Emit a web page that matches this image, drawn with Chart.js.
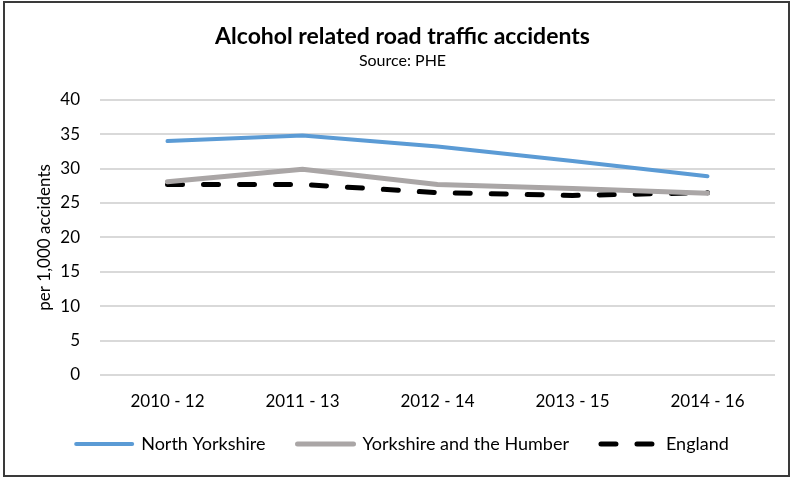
<!DOCTYPE html>
<html>
<head>
<meta charset="utf-8">
<script src="https://cdn.jsdelivr.net/npm/chart.js@4.4.1/dist/chart.umd.min.js"></script>
<style>
  body { margin: 0; background: #fff; }
  #frame {
    position: absolute; left: 3px; top: 1px;
    width: 783px; height: 472px;
    border: 2px solid #3a3a3a; background: #fff;
  }
</style>
</head>
<body>
<div id="frame"><canvas id="lineChart"></canvas></div>
<script>
// Periods and rates per 1,000 accidents
const periods = ['2010 - 12', '2011 - 13', '2012 - 14', '2013 - 15', '2014 - 16'];
const northYorkshire = [34.0, 34.8, 33.2, 31.1, 28.9];
const yorkshireHumber = [28.1, 29.9, 27.7, 27.1, 26.4];
const england = [27.7, 27.7, 26.5, 26.1, 26.5];
const yTicks = [0, 5, 10, 15, 20, 25, 30, 35, 40];

const fontFamily = 'Lato, "Open Sans", sans-serif';

// legend samples: keep the dataset's own width / dash instead of the point style,
// and widen the gap after every entry but the last
function legendLabels(chart) {
    const items = Chart.defaults.plugins.legend.labels.generateLabels(chart);
    return items.map((item, i) => {
        const ds = chart.data.datasets[item.datasetIndex];
        item.strokeStyle = ds.borderColor;
        item.lineWidth = ds.borderWidth;
        item.lineDash = ds.borderDash || [];
        item.lineCap = ds.borderCapStyle || 'butt';
        if (i < items.length - 1) item.text += '\u2002';
        return item;
    });
}

const ctx = document.getElementById('lineChart').getContext('2d');
const lineChart = new Chart(ctx, {
    type: 'line',
    data: {
        labels: periods,
        datasets: [{
            label: 'North Yorkshire',
            data: northYorkshire,
            borderColor: '#5b9bd5',
            backgroundColor: '#5b9bd5',
            borderWidth: 4,
            borderCapStyle: 'round',
            pointRadius: 0
        }, {
            label: 'Yorkshire and the Humber',
            data: yorkshireHumber,
            borderColor: '#aaa6a6',
            backgroundColor: '#aaa6a6',
            borderWidth: 5,
            borderCapStyle: 'round',
            pointRadius: 0
        }, {
            label: 'England',
            data: england,
            borderColor: '#000',
            backgroundColor: '#000',
            borderWidth: 5,
            borderDash: [15, 21],
            borderCapStyle: 'round',
            pointRadius: 0
        }]
    },
    options: {
        responsive: true,
        maintainAspectRatio: false,
        animation: false,
        layout: { padding: { left: 25, right: 13, top: 10, bottom: 12 } },
        plugins: {
            title: {
                display: true,
                text: 'Alcohol related road traffic accidents',
                color: '#000',
                font: { family: fontFamily, size: 23, weight: 'bold' },
                padding: { top: 10, bottom: 0 }
            },
            subtitle: {
                display: true,
                text: 'Source: PHE',
                color: '#000',
                font: { family: fontFamily, size: 16 },
                padding: { top: 1, bottom: 29 }
            },
            legend: {
                position: 'bottom',
                labels: {
                    usePointStyle: true,
                    pointStyle: 'line',
                    pointStyleWidth: 56,
                    boxHeight: 5,
                    color: '#000',
                    font: { family: fontFamily, size: 18 },
                    padding: 23,
                    generateLabels: legendLabels
                }
            },
            tooltip: { enabled: false }
        },
        scales: {
            x: {
                offset: true,
                grid: { display: false, drawTicks: false },
                border: { display: false },
                ticks: {
                    color: '#000',
                    font: { family: fontFamily, size: 17 },
                    padding: 16
                },
                afterFit: scale => { scale.height = 37; }
            },
            y: {
                min: 0,
                max: 40,
                afterBuildTicks: axis => { axis.ticks = yTicks.map(v => ({ value: v })); },
                afterFit: scale => { scale.width = 70; },
                grid: { color: '#d9d9d9', lineWidth: 2, drawTicks: false },
                border: { display: false },
                ticks: {
                    color: '#000',
                    font: { family: fontFamily, size: 17 },
                    padding: 20
                },
                title: {
                    display: true,
                    text: 'per 1,000 accidents',
                    color: '#000',
                    font: { family: fontFamily, size: 17 },
                    padding: { top: 4, bottom: 5 }
                }
            }
        }
    }
});
</script>
</body>
</html>
